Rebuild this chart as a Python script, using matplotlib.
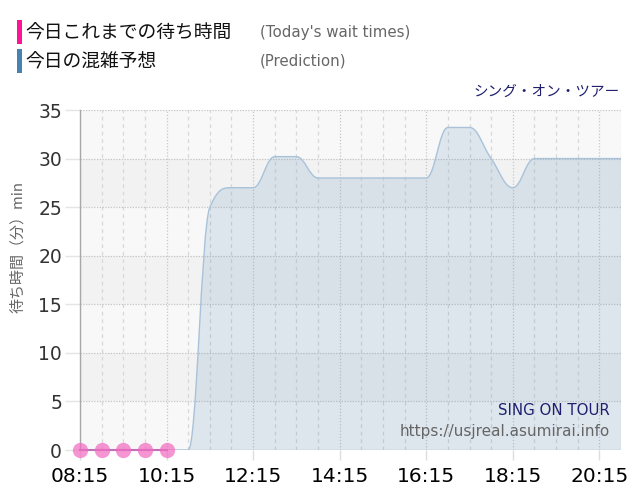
import matplotlib
matplotlib.use("Agg")
import matplotlib.pyplot as plt
from matplotlib.path import Path
from matplotlib.patches import PathPatch, Rectangle
import numpy as np

# ---- data ----
pred_times = ["08:15", "08:45", "09:15", "09:45", "10:15", "10:45", "11:15", "11:45",
              "12:15", "12:45", "13:15", "13:45", "14:15", "14:45", "15:15", "15:45",
              "16:15", "16:45", "17:15", "17:45", "18:15", "18:45", "19:15", "19:45",
              "20:15", "20:45"]
pred_values = [0, 0, 0, 0, 0, 0, 25, 27, 27, 30.2, 30.2, 28, 28, 28, 28, 28,
               28, 33.2, 33.2, 30, 27, 30, 30, 30, 30, 30]
actual_times = ["08:15", "08:45", "09:15", "09:45", "10:15"]
actual_values = [0, 0, 0, 0, 0]
xtick_labels = ["08:15", "10:15", "12:15", "14:15", "16:15", "18:15", "20:15"]
yticks = [0, 5, 10, 15, 20, 25, 30, 35]


def to_h(t):
    h, m = t.split(":")
    return int(h) + int(m) / 60.0


px = np.array([to_h(t) for t in pred_times])
py = np.array(pred_values, dtype=float)
ax_x = np.array([to_h(t) for t in actual_times])
ax_y = np.array(actual_values, dtype=float)


def spline_path(xs, ys):
    """Highcharts-style spline control points -> bezier path."""
    n = len(xs)
    lc = [(xs[i], ys[i]) for i in range(n)]
    rc = [(xs[i], ys[i]) for i in range(n)]
    sm, den = 1.5, 2.5
    for i in range(1, n - 1):
        x, y = xs[i], ys[i]
        lx, ly = xs[i - 1], ys[i - 1]
        nx, ny = xs[i + 1], ys[i + 1]
        lcx = (sm * x + lx) / den
        lcy = (sm * y + ly) / den
        rcx = (sm * x + nx) / den
        rcy = (sm * y + ny) / den
        corr = ((rcy - lcy) * (rcx - x)) / (rcx - lcx) + y - rcy
        lcy += corr
        rcy += corr
        if lcy > ly and lcy > y:
            lcy = max(ly, y); rcy = 2 * y - lcy
        elif lcy < ly and lcy < y:
            lcy = min(ly, y); rcy = 2 * y - lcy
        if rcy > ny and rcy > y:
            rcy = max(ny, y); lcy = 2 * y - rcy
        elif rcy < ny and rcy < y:
            rcy = min(ny, y); lcy = 2 * y - rcy
        lc[i] = (lcx, lcy)
        rc[i] = (rcx, rcy)
    verts = [(xs[0], ys[0])]
    codes = [Path.MOVETO]
    for i in range(1, n):
        verts += [rc[i - 1], lc[i], (xs[i], ys[i])]
        codes += [Path.CURVE4] * 3
    return verts, codes


fig = plt.figure(figsize=(6.4, 5.0), dpi=100)
ax = fig.add_axes([80 / 640, 50 / 500, 541 / 640, 340 / 500])

xmin, xmax = px[0], px[-1]
ax.set_xlim(xmin, xmax)
ax.set_ylim(0, 35)

# alternating bands
for i, y0 in enumerate(range(0, 35, 5)):
    ax.axhspan(y0, y0 + 5, color="#f8f8f8" if i % 2 == 0 else "#f2f2f2", zorder=0, lw=0)

# vertical grid
for xv in np.arange(xmin, xmax + 0.01, 0.5):
    if abs(((xv - xmin) / 2) - round((xv - xmin) / 2)) < 1e-6:
        ax.axvline(xv, color="#c8c8c8", lw=0.9, ls=(0, (1, 1.5)), zorder=1)
    else:
        ax.axvline(xv, color="#d8d8d8", lw=0.9, ls=(0, (3, 3)), zorder=1)
# horizontal grid
for yv in yticks[1:]:
    ax.axhline(yv, color="#c4c4c4", lw=0.9, ls=(0, (1, 1.2)), zorder=1)
ax.axhline(0, color="#d0d0d0", lw=1, zorder=1)

# prediction areaspline
verts, codes = spline_path(px, py)
fill_verts = verts + [(px[-1], 0), (px[0], 0), (px[0], py[0])]
fill_codes = codes + [Path.LINETO, Path.LINETO, Path.CLOSEPOLY]
ax.add_patch(PathPatch(Path(fill_verts, fill_codes), facecolor=(70/255, 130/255, 180/255, 0.15),
                       edgecolor="none", zorder=2))
ax.add_patch(PathPatch(Path(verts, codes), facecolor="none", edgecolor="#a9c2da", lw=1.0, zorder=3))

# actual
ax.plot(ax_x, ax_y, color="#c070b8", lw=1.5, zorder=4, clip_on=False)
ax.plot(ax_x, ax_y, "o", color="#f26cc0", alpha=0.72, markersize=11, mec="none",
        zorder=5, clip_on=False)

# axes styling
for s in ["top", "right", "bottom"]:
    ax.spines[s].set_visible(False)
ax.spines["left"].set_color("#a8a8a8")
ax.spines["left"].set_linewidth(1)

ax.set_xticks([to_h(t) for t in xtick_labels])
ax.set_xticklabels(xtick_labels, fontsize=14.5, color="black", family="DejaVu Sans")
ax.set_yticks(yticks)
ax.set_yticklabels([str(v) for v in yticks], fontsize=13.5, color="#333333", family="DejaVu Sans")
ax.tick_params(axis="x", length=7, color="#dddddd", width=1, pad=5)
ax.tick_params(axis="y", length=11, color="#e4e4e4", width=1, pad=2)

cjk = ["Noto Sans CJK JP", "DejaVu Sans"]
fig.text(18 / 640, 1 - 247 / 500, "待ち時間（分）min", family=cjk, fontsize=10.8,
         color="#666666", rotation=90, ha="center", va="center")

# watermark texts
ax.text(0.98, 0.115, "SING ON TOUR", transform=ax.transAxes, ha="right", va="center",
        fontsize=10.8, color="#1f1f6e", family="DejaVu Sans", zorder=6)
ax.text(0.98, 0.055, "https://usjreal.asumirai.info", transform=ax.transAxes, ha="right",
        va="center", fontsize=11, color="#666666", family="DejaVu Sans", zorder=6)

# top right title
fig.text(620 / 640, 1 - 92 / 500, "シング・オン・ツアー", ha="right", va="center",
         fontsize=10.5, color="#1f1f6e", family=cjk)

# legend
fig.patches.append(Rectangle((17 / 640, 1 - 44 / 500), 5 / 640, 24 / 500,
                             transform=fig.transFigure, color="#ff1493", lw=0))
fig.patches.append(Rectangle((17 / 640, 1 - 73 / 500), 5 / 640, 24 / 500,
                             transform=fig.transFigure, color="#4682b4", lw=0))
fig.text(25 / 640, 1 - 33 / 500, "今日これまでの待ち時間", ha="left", va="center",
         fontsize=13.5, color="#111111", family=cjk)
fig.text(25 / 640, 1 - 62 / 500, "今日の混雑予想", ha="left", va="center",
         fontsize=13.5, color="#111111", family=cjk)
fig.text(260 / 640, 1 - 32 / 500, "(Today's wait times)", ha="left", va="center",
         fontsize=10.8, color="#666666", family="DejaVu Sans")
fig.text(260 / 640, 1 - 61 / 500, "(Prediction)", ha="left", va="center",
         fontsize=10.8, color="#666666", family="DejaVu Sans")

fig.savefig("out.png", dpi=100)
